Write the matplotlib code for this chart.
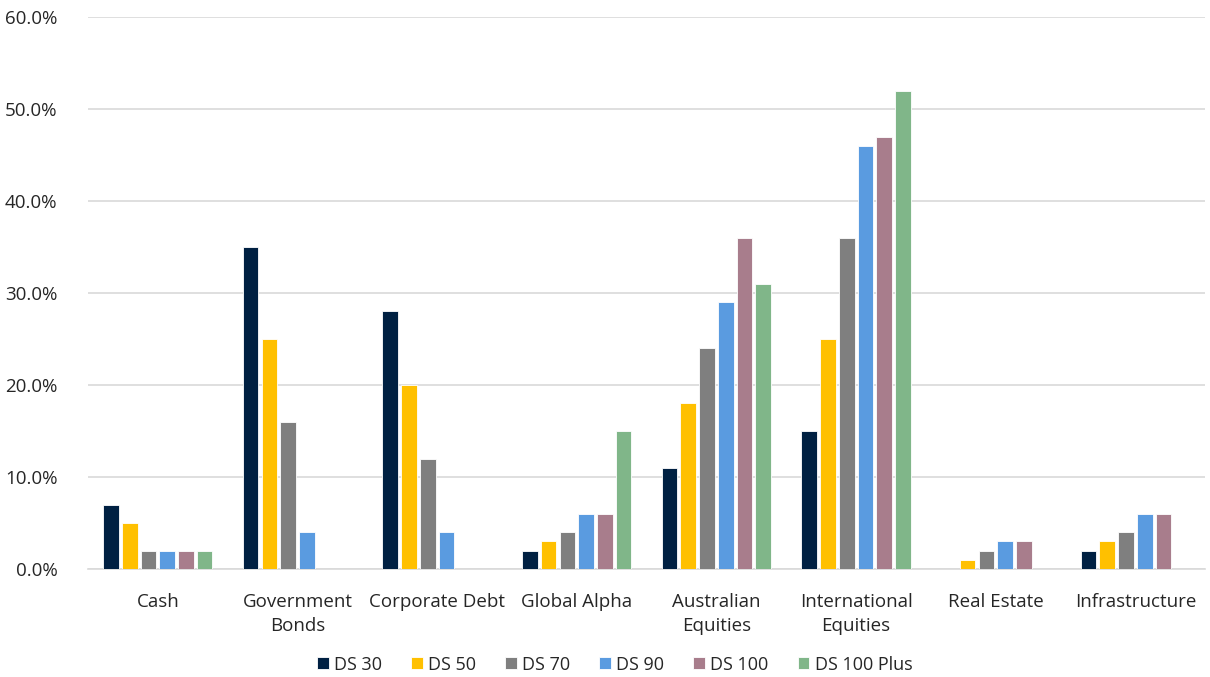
import numpy as np
import matplotlib
matplotlib.use('Agg')
import matplotlib.pyplot as plt
from matplotlib.ticker import PercentFormatter

plt.rcParams['font.family'] = ['Open Sans', 'DejaVu Sans']

categories = ['Cash', 'Government\nBonds', 'Corporate Debt', 'Global Alpha',
              'Australian\nEquities', 'International\nEquities', 'Real Estate', 'Infrastructure']
series = ['DS 30', 'DS 50', 'DS 70', 'DS 90', 'DS 100', 'DS 100 Plus']
ds30 = [7, 35, 28, 2, 11, 15, 0, 2]
ds50 = [5, 25, 20, 3, 18, 25, 1, 3]
ds70 = [2, 16, 12, 4, 24, 36, 2, 4]
ds90 = [2, 4, 4, 6, 29, 46, 3, 6]
ds100 = [2, 0, 0, 6, 36, 47, 3, 6]
ds100plus = [2, 0, 0, 15, 31, 52, 0, 0]
colors = ['#002042', '#FFC000', '#7F7F7F', '#5A9BE0', '#A87D8C', '#80B689']

values = [ds30, ds50, ds70, ds90, ds100, ds100plus]

fig = plt.figure(figsize=(12.1, 6.77), dpi=100)
ax = fig.add_axes([0.0727, 0.1595, 0.9233, 0.8155])

x = np.arange(len(categories))
step = 0.134
w = 0.112
for i, (name, vals) in enumerate(zip(series, values)):
    ax.bar(x + (i - 2.5) * step, vals, width=w, color=colors[i], label=name,
           edgecolor='white', linewidth=0.6, zorder=3)

ax.set_xlim(-0.5, len(categories) - 0.5)
ax.set_ylim(0, 60)
ax.set_yticks(np.arange(0, 61, 10))
ax.yaxis.set_major_formatter(PercentFormatter(decimals=1))
ax.grid(axis='y', color='#D9D9D9', linewidth=1.2, zorder=0)
ax.set_xticks(x)
ax.set_xticklabels(categories, fontsize=13.5, color='#262626', linespacing=1.45)
ax.tick_params(axis='y', labelsize=13.5, labelcolor='#262626', length=0, pad=22)
ax.tick_params(axis='x', length=0, pad=17)
for s in ['top', 'right', 'left']:
    ax.spines[s].set_visible(False)
ax.spines['bottom'].set_color('#D9D9D9')
ax.spines['bottom'].set_linewidth(1.2)

fig.legend(loc='center', bbox_to_anchor=(0.508, 0.018), ncol=6, frameon=False,
           fontsize=13, handlelength=0.65, handleheight=0.65, handletextpad=0.3,
           columnspacing=1.6, labelcolor='#262626')

fig.savefig('out.png', dpi=100)
